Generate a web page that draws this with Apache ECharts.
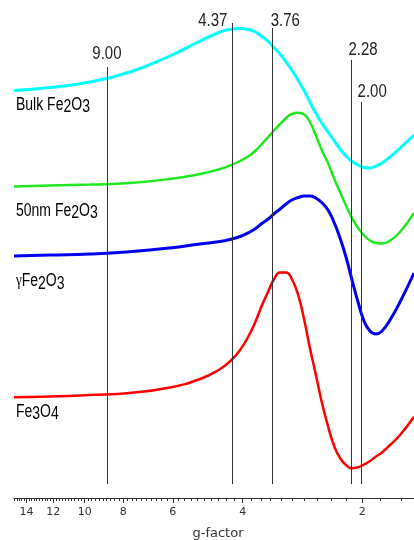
<!DOCTYPE html>
<html><head><meta charset="utf-8">
<script src="https://cdn.jsdelivr.net/npm/echarts@6/dist/echarts.min.js"></script>
<style>html,body{margin:0;padding:0;background:#fff}#c{width:414px;height:540px}</style>
</head><body><div id="c"></div>
<script>
// ---- data (g-factor on x, EPR intensity in arbitrary units on y) ----
const tickLabels = [14, 12, 10, 8, 6, 4, 2];
const gMin = 1.482, gMax = 15.06;
const gGrid = [15.06, 12.23, 9.70, 7.69, 6.10, 5.12, 4.56, 4.31, 4.06, 3.83, 3.70, 3.58, 3.45, 3.34, 3.22, 3.11, 3.01, 2.90, 2.80, 2.71, 2.62, 2.53, 2.44, 2.357, 2.276, 2.198, 2.123, 2.050, 1.980, 1.913, 1.847, 1.784, 1.703, 1.607, 1.482];
const bulkFe2O3 = [407.5, 410.5, 416, 426, 442, 457, 466, 468.5, 469.5, 468, 465.5, 461.5, 456.5, 450.5, 444, 436, 428, 417.5, 407, 396, 385, 375, 366, 357.5, 349, 342, 336.5, 333, 330.5, 330, 332, 335, 341, 350, 363];
const nm50Fe2O3 = [311.5, 312.5, 313.5, 315, 319, 324, 329, 332.5, 337, 343, 348, 354, 361, 367.5, 374, 380, 384, 385.3, 383.5, 376, 363, 348, 335, 320, 306, 292.5, 280, 270, 262.5, 257.5, 255, 254.5, 257.5, 266, 285];
const gammaFe2O3 = [242, 243, 244, 246.3, 250, 254, 256.5, 258.5, 261.5, 266.3, 270, 274.5, 279, 284, 289, 294, 298, 300.5, 302, 302, 300, 295.5, 288, 276, 260, 241, 218, 196, 177, 167, 164, 167, 178, 196, 225];
const fe3O4 = [100.7, 101.5, 103, 105, 110.5, 119, 129, 136.5, 148, 165, 178, 192.5, 206.5, 218.5, 225.5, 225.5, 219, 203, 178, 150, 124, 96, 72, 52.5, 40, 33, 29.7, 30.7, 33.5, 37, 41.5, 45.5, 53, 63, 81.3];
const markerG = [8.79, 4.25, 3.38, 2.135, 2.007];
const markerLabels = ['9.00', '4.37', '3.76', '2.28', '2.00'];
const markerTop = [431, 475, 470, 438, 396];
const markerBottom = 14;

// ---- styles / layout ----
const markerLabelOffsets = [[0, -13.5], [-19.5, -2.5], [13.5, -7], [12, -10], [10.5, -10]];
const L = Math.log;
const minorTicks = [];
for (let v = 16; v <= 150; v += 2) minorTicks.push(v / 10);

const SANS = '"Liberation Sans", Arial, sans-serif';
const chart = echarts.init(document.getElementById('c'));
const pts = arr => arr.map((v, i) => [L(gGrid[i]), v]);
const curve = (name, arr, color, w) => ({
  name, type: 'line', data: pts(arr), smooth: 0.5, showSymbol: false, z: 2,
  lineStyle: { color, width: w }, itemStyle: { color }, silent: true
});
const base = { type: 'value', inverse: true, min: L(gMin), max: L(gMax), splitLine: { show: false } };
const richLabel = {
  a: { fontFamily: SANS, fontSize: 14, lineHeight: 16, verticalAlign: 'top', color: '#333' },
  s: { fontFamily: SANS, fontSize: 14, lineHeight: 6, verticalAlign: 'bottom', color: '#333' },
  g: { fontFamily: '"Liberation Serif", serif', fontSize: 13, lineHeight: 16, verticalAlign: 'top', color: '#777' }
};
const txt = (text, y) => ({ type: 'text', x: 16, y, scaleY: 1.25, silent: true,
  style: { text, rich: richLabel, verticalAlign: 'middle', align: 'left' } });

chart.setOption({
  animation: false,
  grid: [
    { left: 14, right: 0, top: 0, bottom: 42, outerBoundsMode: 'none' },
    { left: 14, right: 0, top: 0, bottom: 42, outerBoundsMode: 'none' }
  ],
  xAxis: [
    Object.assign({}, base, {
      gridIndex: 0,
      axisLine: { lineStyle: { color: '#333', width: 1 } },
      axisTick: { customValues: tickLabels.map(L), length: 5, lineStyle: { color: '#333' } },
      axisLabel: { customValues: tickLabels.map(L), formatter: v => String(Math.round(Math.exp(v))),
        color: '#333', fontFamily: 'DejaVu Sans', fontSize: 11, margin: 9 },
      name: 'g-factor', nameLocation: 'middle', nameGap: 29,
      nameTextStyle: { color: '#333', fontFamily: 'DejaVu Sans', fontSize: 13, padding: [0, 0, 0, 8] }
    }),
    Object.assign({}, base, {
      gridIndex: 1,
      axisLine: { show: false },
      axisTick: { customValues: minorTicks.map(L), length: 3, lineStyle: { color: '#333' } },
      axisLabel: { show: false }
    })
  ],
  yAxis: [
    { gridIndex: 0, type: 'value', min: 0, max: 498, show: false },
    { gridIndex: 1, type: 'value', min: 0, max: 498, show: false }
  ],
  series: [
    curve('Bulk Fe2O3', bulkFe2O3, '#00FFFF', 3),
    curve('50nm Fe2O3', nm50Fe2O3, '#1EE81E', 2.5),
    curve('γFe2O3', gammaFe2O3, '#0000EE', 3),
    curve('Fe3O4', fe3O4, '#FF0000', 2.5),
    {
      name: 'markers', type: 'line', data: [], z: 5, silent: true,
      markLine: {
        silent: true, symbol: 'none', animation: false,
        lineStyle: { color: '#333', width: 1, type: 'solid' },
        label: { show: false },
        data: markerG.map((g, i) => [{ coord: [L(g), markerTop[i]] }, { coord: [L(g), markerBottom] }])
      }
    }
  ]
});

// marker value labels, anchored to the top of each marker line
const markerTexts = markerG.map((g, i) => {
  const p = chart.convertToPixel({ gridIndex: 0 }, [L(g), markerTop[i]]);
  return { type: 'text', x: p[0] + markerLabelOffsets[i][0], y: p[1] + markerLabelOffsets[i][1],
    scaleY: 1.22, silent: true, z: 10,
    style: { text: markerLabels[i], fontFamily: SANS, fontSize: 15, fill: '#222', align: 'center', verticalAlign: 'middle' } };
});

chart.setOption({
  graphic: { elements: [
    txt('{a|Bulk Fe}{s|2}{a|O}{s|3}', 106),
    txt('{a|50nm Fe}{s|2}{a|O}{s|3}', 212),
    txt('{g|γ}{a|Fe}{s|2}{a|O}{s|3}', 282.5),
    txt('{a|Fe}{s|3}{a|O}{s|4}', 413)
  ].concat(markerTexts) }
});
</script>
</body></html>
